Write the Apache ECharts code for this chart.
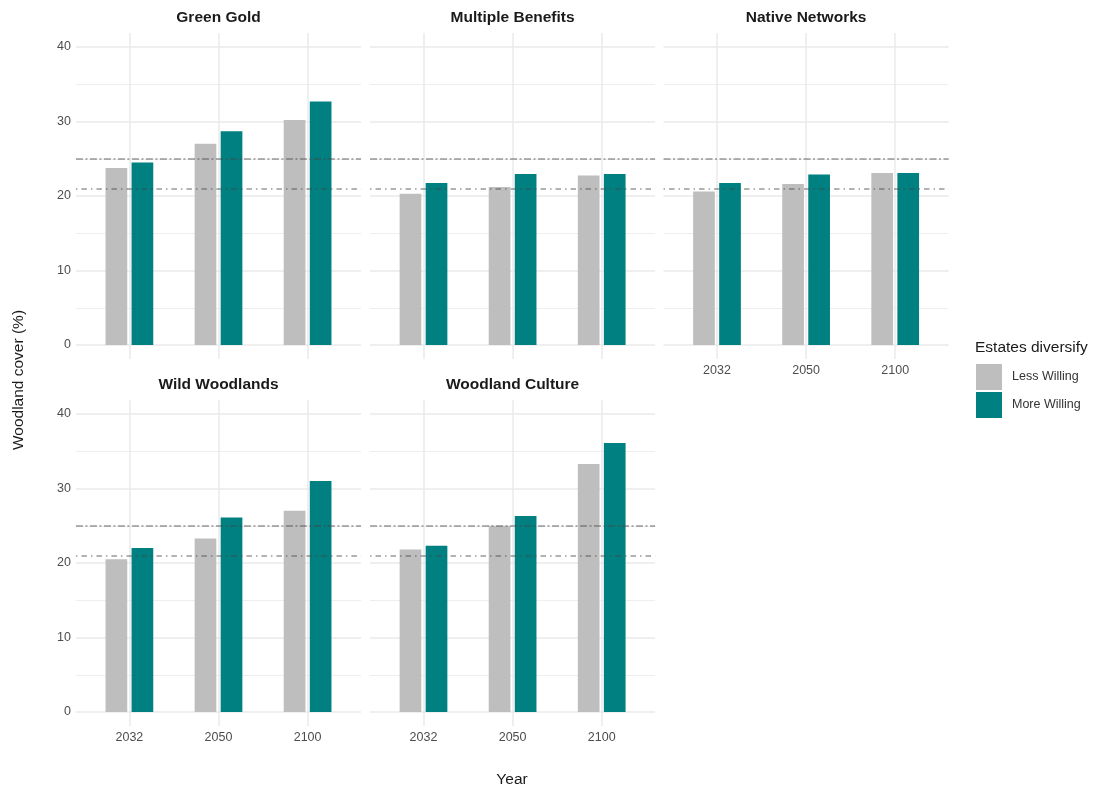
<!DOCTYPE html>
<html>
<head>
<meta charset="utf-8">
<script src="https://cdn.jsdelivr.net/npm/echarts@6/dist/echarts.min.js"></script>
<style>
html,body{margin:0;padding:0;background:#fff;}
#chart{width:1104px;height:792px;}
</style>
</head>
<body>
<div id="chart"></div>
<script>
// ---- data ----
const scenarios = ['Green Gold', 'Multiple Benefits', 'Native Networks', 'Wild Woodlands', 'Woodland Culture'];
const years = ['2032', '2050', '2100'];
const seriesNames = ['Less Willing', 'More Willing'];
const lessWilling = [
  [23.75, 27.0, 30.2],   // Green Gold
  [20.3, 21.2, 22.75],   // Multiple Benefits
  [20.6, 21.6, 23.1],    // Native Networks
  [20.5, 23.3, 27.0],    // Wild Woodlands
  [21.8, 25.0, 33.3]     // Woodland Culture
];
const moreWilling = [
  [24.5, 28.7, 32.7],
  [21.75, 22.95, 22.95],
  [21.75, 22.9, 23.1],
  [22.0, 26.1, 31.0],
  [22.3, 26.3, 36.1]
];
const refLines = [25, 21];

// ---- layout ----
const FONT = 'Liberation Sans, Arial, Helvetica, sans-serif';
const S = 89.1;                    // category spacing
const colFirst = [129.4, 423.5, 717.0];
const rowZero = [345, 712];
const plotH = 298;                 // 0..40 height
const panels = [
  {col: 0, row: 0, yLab: true,  xLab: false},
  {col: 1, row: 0, yLab: false, xLab: false},
  {col: 2, row: 0, yLab: false, xLab: true},
  {col: 0, row: 1, yLab: true,  xLab: true},
  {col: 1, row: 1, yLab: false, xLab: true}
];

const grids = [], xAxes = [], yAxes = [], series = [], graphics = [];
const gridLine = '#EAEAEA';

panels.forEach((p, i) => {
  const c0 = colFirst[p.col];
  const z0 = rowZero[p.row];
  const top = z0 - plotH;
  // grid H: horizontal gridlines + y labels + reference lines (full panel width)
  const hIdx = grids.length;
  grids.push({left: c0 - 0.6 * S, width: 3.2 * S, top: top, height: plotH, containLabel: false, outerBoundsMode: 'none'});
  xAxes.push({gridIndex: hIdx, type: 'value', min: 0, max: 1, show: false});
  yAxes.push({
    gridIndex: hIdx, type: 'value', min: 0, max: 40, interval: 10,
    axisLine: {show: false}, axisTick: {show: false},
    axisLabel: {show: p.yLab, fontSize: 12.5, color: '#4d4d4d', fontFamily: FONT, margin: 5},
    splitLine: {show: true, lineStyle: {color: gridLine, width: 1.5}},
    minorTick: {show: false, splitNumber: 2},
    minorSplitLine: {show: true, lineStyle: {color: '#EEEEEE', width: 1}}
  });
  // grid V: vertical gridlines at category centres + x labels
  const vIdx = grids.length;
  grids.push({left: c0, width: 2 * S, top: z0 - 312, height: 326, containLabel: false, outerBoundsMode: 'none'});
  xAxes.push({
    gridIndex: vIdx, type: 'category', data: years, boundaryGap: false,
    axisLine: {show: false}, axisTick: {show: false},
    axisLabel: {show: p.xLab, fontSize: 12.5, color: '#4d4d4d', fontFamily: FONT, margin: 5},
    splitLine: {show: true, lineStyle: {color: gridLine, width: 1.5}}
  });
  yAxes.push({gridIndex: vIdx, type: 'value', min: 0, max: 1, show: false, splitLine: {show: false}});
  // grid B: bars
  const bIdx = grids.length;
  grids.push({left: c0 - 0.5 * S, width: 3 * S, top: top, height: plotH, containLabel: false, outerBoundsMode: 'none'});
  xAxes.push({gridIndex: bIdx, type: 'category', data: years, show: false});
  yAxes.push({gridIndex: bIdx, type: 'value', min: 0, max: 40, show: false, splitLine: {show: false}});

  series.push({
    name: seriesNames[0], type: 'bar', xAxisIndex: bIdx, yAxisIndex: bIdx,
    data: lessWilling[i], barWidth: 21.7, barGap: '20%', z: 2,
    itemStyle: {color: '#BEBEBE'}, silent: true
  });
  series.push({
    name: seriesNames[1], type: 'bar', xAxisIndex: bIdx, yAxisIndex: bIdx,
    data: moreWilling[i], barWidth: 21.7, barGap: '20%', z: 2,
    itemStyle: {color: '#008080'}, silent: true
  });
  series.push({
    name: 'ref' + i, type: 'line', xAxisIndex: hIdx, yAxisIndex: hIdx, data: [], z: 5, silent: true,
    markLine: {
      silent: true, symbol: ['none', 'none'], label: {show: false}, animation: false,
      data: [
        {yAxis: refLines[0], lineStyle: {color: 'rgba(70,70,70,0.55)', width: 1.5, type: [7, 2.5, 2, 2.5]}},
        {yAxis: refLines[1], lineStyle: {color: 'rgba(70,70,70,0.55)', width: 1.5, type: [1.5, 4, 5.5, 4]}}
      ]
    }
  });
  // strip title
  graphics.push({
    type: 'text', x: c0 + S, y: top - 29, silent: true,
    style: {text: scenarios[i], textAlign: 'center', textVerticalAlign: 'middle',
            font: 'bold 15.5px ' + FONT, fill: '#1a1a1a'}
  });
});

// axis titles and legend title
graphics.push({type: 'text', x: 512, y: 780, silent: true,
  style: {text: 'Year', textAlign: 'center', textVerticalAlign: 'middle', font: '15.5px ' + FONT, fill: '#1a1a1a'}});
graphics.push({type: 'text', x: 19, y: 380, rotation: Math.PI / 2, silent: true,
  style: {text: 'Woodland cover (%)', textAlign: 'center', textVerticalAlign: 'middle', font: '15.5px ' + FONT, fill: '#1a1a1a'}});
graphics.push({type: 'text', x: 975, y: 348, silent: true,
  style: {text: 'Estates diversify', textVerticalAlign: 'middle', font: '15.5px ' + FONT, fill: '#1a1a1a'}});

const chart = echarts.init(document.getElementById('chart'), null, {renderer: 'canvas'});
chart.setOption({
  backgroundColor: '#ffffff',
  animation: false,
  grid: grids,
  xAxis: xAxes,
  yAxis: yAxes,
  series: series,
  legend: {
    data: seriesNames, orient: 'vertical', left: 976, top: 364,
    itemWidth: 26, itemHeight: 26, itemGap: 2, icon: 'rect',
    padding: 0, selectedMode: false,
    textStyle: {fontSize: 12.5, color: '#333', fontFamily: FONT, padding: [0, 0, 0, 5]}
  },
  graphic: graphics
});
</script>
</body>
</html>
